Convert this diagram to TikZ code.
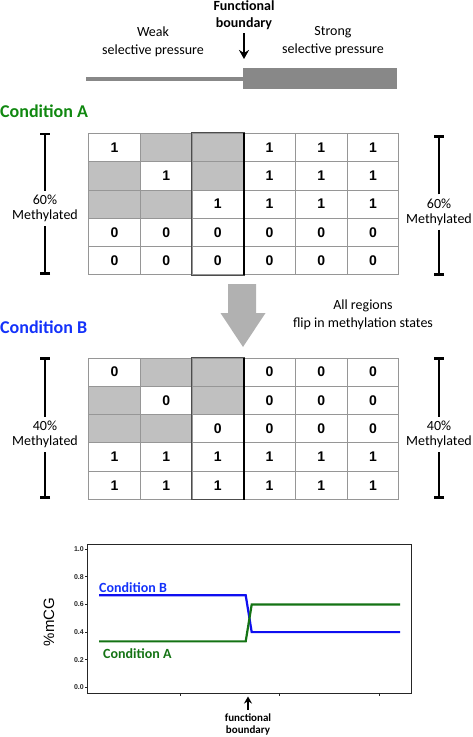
\documentclass[tikz,border=0pt]{standalone}
\usepackage{fontspec}
\setmainfont{Carlito}
\newfontfamily\arialfont{Liberation Sans}
\usetikzlibrary{matrix,arrows.meta,positioning}

\definecolor{condA}{RGB}{16,136,16}
\definecolor{condB}{RGB}{20,50,250}
\definecolor{lineA}{RGB}{20,115,20}
\definecolor{lineB}{RGB}{15,15,240}
\definecolor{barGray}{RGB}{136,136,136}
\definecolor{cellGray}{RGB}{192,192,192}
\definecolor{gridLine}{RGB}{150,150,150}

\tikzset{
  cellgrid/.style={matrix of nodes, nodes in empty cells, inner sep=0pt,
    column sep=-0.8pt, row sep=-0.8pt, anchor=north west,
    nodes={draw=gridLine, line width=0.8pt, minimum width=51.7pt, minimum height=28.3pt,
      inner sep=0pt, anchor=center, font=\arialfont\bfseries\fontsize{14}{14}\selectfont}},
  shaded/.style={fill=cellGray},
  note/.style={align=center, font=\fontsize{14}{18}\selectfont},
  cond/.style={anchor=west, inner sep=0pt, font=\bfseries\fontsize{18}{18}\selectfont},
  methyl/.style={align=center, inner sep=4pt, font=\fontsize{14}{15}\selectfont},
  bracket/.style={line width=2.6pt, -{Bar[width=10pt]}},
  axis/.style={line width=0.9pt, black!85},
}

\begin{document}
\begin{tikzpicture}[x=1pt, y=-1pt]
  \useasboundingbox (0,0) rectangle (473,737);

  \node[note, font=\bfseries\fontsize{14}{17}\selectfont] (fb) at (244,15) {Functional\\boundary};
  \node[note] (weak) at (153,41.5) {Weak\\selective pressure};
  \node[note] (strong) at (333,41.5) {Strong\\selective pressure};
  \coordinate (fbtip) at (244,59);
  \draw[line width=2pt, -{Stealth[length=9pt,width=10pt]}] (fb.south) -- (fbtip);
  \fill[barGray] (86,76.5) rectangle (244,80.5);
  \fill[barGray] (243,68) rectangle (397,89);

  \node[cond, text=condA] (condA) at (0,111) {Condition A};
  \matrix (mA) [cellgrid] at (88,132.7) {
    1 & |[shaded]| & |[shaded]| & 1 & 1 & 1 \\
    |[shaded]| & 1 & |[shaded]| & 1 & 1 & 1 \\
    |[shaded]| & |[shaded]| & 1 & 1 & 1 & 1 \\
    0 & 0 & 0 & 0 & 0 & 0 \\
    0 & 0 & 0 & 0 & 0 & 0 \\
  };
  \draw[black!70, line width=0.9pt] (mA-1-3.north west) rectangle (mA-5-3.south east);
  \draw[line width=2.4pt] (mA-1-3.north east) -- (mA-5-3.south east);

  \node[methyl] (pctAL) at (45,208.5) {60\%\\Methylated};
  \coordinate (topAL) at (45,132.7);
  \coordinate (botAL) at (45,274.5);
  \draw[bracket] (pctAL.north) -- (topAL);
  \draw[bracket] (pctAL.south) -- (botAL);
  \node[methyl] (pctAR) at (439,212) {60\%\\Methylated};
  \coordinate (topAR) at (439,135);
  \coordinate (botAR) at (439,276);
  \draw[bracket] (pctAR.north) -- (topAR);
  \draw[bracket] (pctAR.south) -- (botAR);

  \draw[fill=cellGray!92!black, draw=none] (228,284) -- (256,284) -- (256,313) -- (265.5,313)
    -- (243,347) -- (220.5,313) -- (228,313) -- cycle;
  \node[note] (flip) at (363,314.5) {All regions\\flip in methylation states};

  \node[cond, text=condB] (condB) at (0,327) {Condition B};
  \matrix (mB) [cellgrid] at (88,357.3) {
    0 & |[shaded]| & |[shaded]| & 0 & 0 & 0 \\
    |[shaded]| & 0 & |[shaded]| & 0 & 0 & 0 \\
    |[shaded]| & |[shaded]| & 0 & 0 & 0 & 0 \\
    1 & 1 & 1 & 1 & 1 & 1 \\
    1 & 1 & 1 & 1 & 1 & 1 \\
  };
  \draw[black!70, line width=0.9pt] (mB-1-3.north west) rectangle (mB-5-3.south east);
  \draw[line width=2.4pt] (mB-1-3.north east) -- (mB-5-3.south east);

  \node[methyl] (pctBL) at (45,434.5) {40\%\\Methylated};
  \coordinate (topBL) at (45,357.3);
  \coordinate (botBL) at (45,499);
  \draw[bracket] (pctBL.north) -- (topBL);
  \draw[bracket] (pctBL.south) -- (botBL);
  \node[methyl] (pctBR) at (439,434.5) {40\%\\Methylated};
  \coordinate (topBR) at (439,357.3);
  \coordinate (botBR) at (439,499);
  \draw[bracket] (pctBR.north) -- (topBR);
  \draw[bracket] (pctBR.south) -- (botBR);

  \begin{scope}[shift={(87,687.3)}, yscale=-138]
    \draw[axis] (0,-0.041) rectangle (324,1.038);
    \foreach \v [count=\i] in {0.0,0.2,0.4,0.6,0.8,1.0}
      \draw[axis] (0,\v) -- (-2.5,\v) node[anchor=east, inner sep=0.3pt,
        font=\arialfont\bfseries\fontsize{7}{7}\selectfont] (tick\i) {\v};
    \foreach \x in {93,192,292}
      \draw[axis] (\x,-0.041) -- (\x,-0.063);
    \draw[lineB, line width=2.2pt] (12,0.667) -- (158.7,0.667) -- (164.7,0.4) -- (313,0.4);
    \draw[lineA, line width=2.2pt] (12,0.333) -- (158.7,0.333) -- (164.7,0.6) -- (313,0.6);
  \end{scope}
  \node[cond, text=condB, font=\bfseries\fontsize{14}{14}\selectfont] (lblB) at (99,588) {Condition B};
  \node[cond, text=lineA, font=\bfseries\fontsize{14}{14}\selectfont] (lblA) at (103,654) {Condition A};
  \node[rotate=90, font=\arialfont\fontsize{15}{15}\selectfont] (ylbl) at (49,622) {\%mCG};

  \node[note, font=\bfseries\fontsize{11}{12}\selectfont] (fbB) at (248,724) {functional\\boundary};
  \coordinate (fbBtip) at (248,696.5);
  \draw[line width=1.6pt, -{Stealth[length=7pt,width=8pt]}] (fbB.north) -- (fbBtip);
\end{tikzpicture}
\end{document}
